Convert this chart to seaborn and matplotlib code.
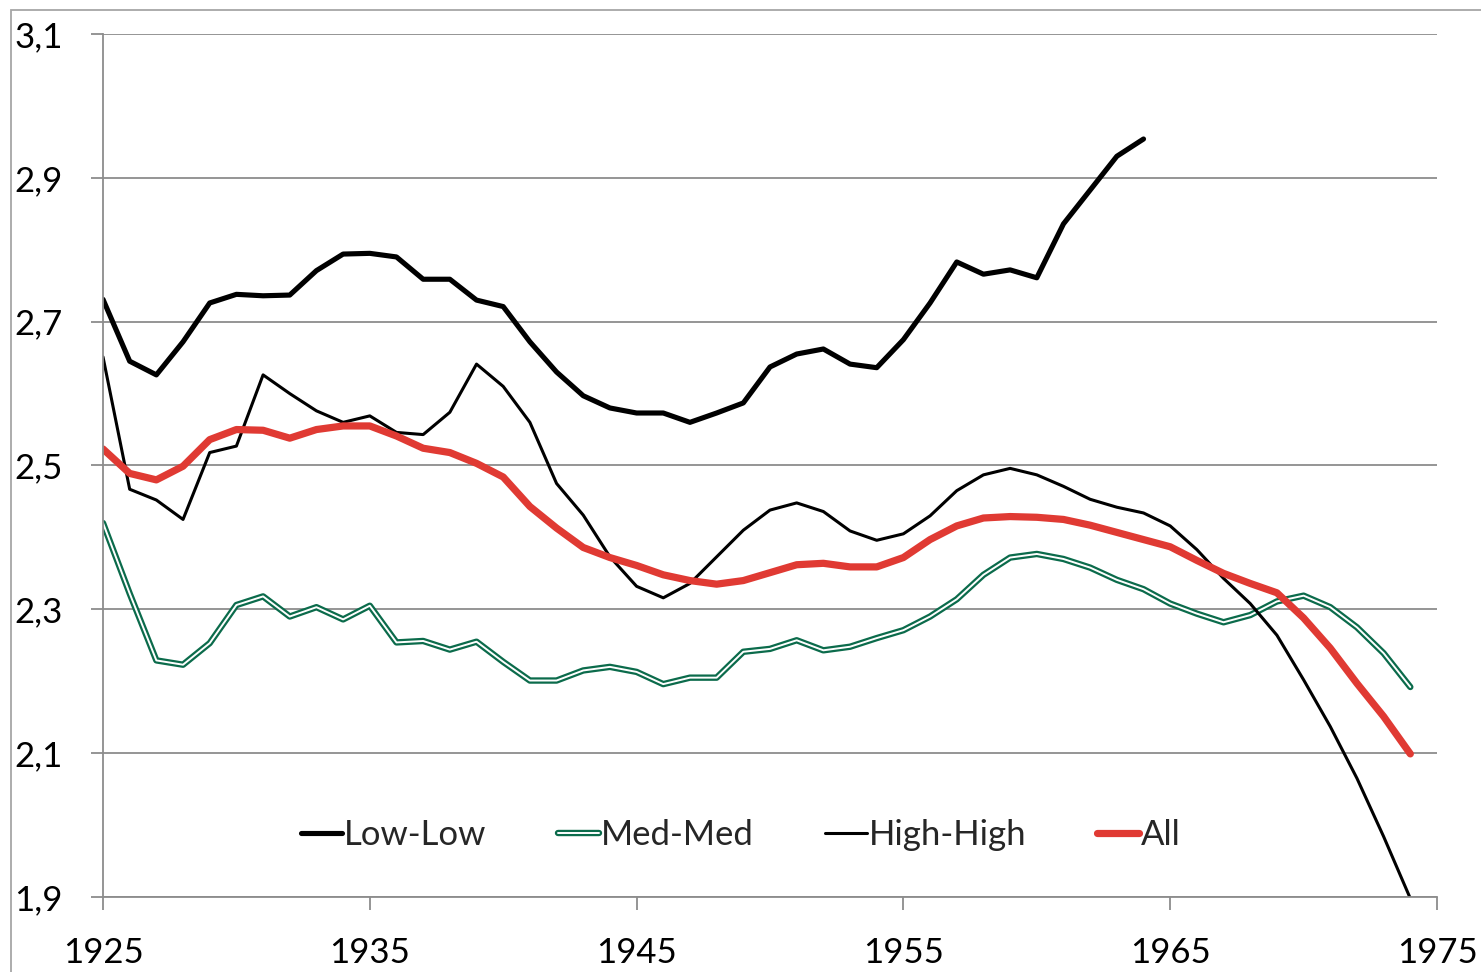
import matplotlib
matplotlib.use("Agg")
import matplotlib.pyplot as plt
import matplotlib.ticker as mticker
import matplotlib.patheffects as pe
from matplotlib.patches import Rectangle
import pandas as pd
import seaborn as sns


YEARS = list(range(1925, 1975))
LOW_YEARS = list(range(1925, 1965))

LOW_LOW = [
    2.731, 2.645, 2.626, 2.672, 2.726, 2.738, 2.736, 2.737, 2.771, 2.794,
    2.795, 2.790, 2.759, 2.759, 2.730, 2.721, 2.672, 2.630, 2.597, 2.580,
    2.573, 2.573, 2.560, 2.573, 2.587, 2.637, 2.655, 2.662, 2.641, 2.636,
    2.675, 2.726, 2.783, 2.766, 2.772, 2.761, 2.836, 2.883, 2.930, 2.954,
]
MED_MED = [
    2.420, 2.322, 2.229, 2.223, 2.253, 2.306, 2.318, 2.290, 2.303, 2.286,
    2.305, 2.254, 2.256, 2.244, 2.255, 2.227, 2.201, 2.201, 2.215, 2.220,
    2.213, 2.196, 2.205, 2.205, 2.241, 2.245, 2.257, 2.243, 2.248, 2.260,
    2.271, 2.290, 2.314, 2.348, 2.372, 2.377, 2.370, 2.358, 2.341, 2.328,
    2.308, 2.294, 2.282, 2.292, 2.311, 2.319, 2.303, 2.275, 2.239, 2.192,
]
HIGH_HIGH = [
    2.651, 2.467, 2.452, 2.425, 2.518, 2.527, 2.626, 2.600, 2.576, 2.560,
    2.569, 2.546, 2.543, 2.574, 2.641, 2.610, 2.560, 2.475, 2.431, 2.373,
    2.332, 2.316, 2.336, 2.373, 2.410, 2.438, 2.448, 2.436, 2.409, 2.396,
    2.405, 2.430, 2.465, 2.487, 2.496, 2.487, 2.471, 2.453, 2.442, 2.434,
    2.416, 2.383, 2.343, 2.308, 2.264, 2.202, 2.137, 2.065, 1.984, 1.898,
]
ALL = [
    2.523, 2.489, 2.480, 2.499, 2.536, 2.550, 2.549, 2.538, 2.550, 2.555,
    2.555, 2.541, 2.524, 2.518, 2.503, 2.484, 2.443, 2.413, 2.386, 2.372,
    2.361, 2.348, 2.340, 2.335, 2.340, 2.351, 2.362, 2.364, 2.359, 2.359,
    2.372, 2.397, 2.416, 2.427, 2.429, 2.428, 2.425, 2.417, 2.407, 2.397,
    2.387, 2.368, 2.350, 2.336, 2.323, 2.288, 2.246, 2.197, 2.151, 2.099,
]

X_TICKS = [1925, 1935, 1945, 1955, 1965, 1975]
Y_TICKS = [1.9, 2.1, 2.3, 2.5, 2.7, 2.9, 3.1]

GREY = "#8c8c8c"
GREEN = "#0b6b4b"
RED = "#e03a33"


def main() -> None:
    sns.set_theme(style="white")
    plt.rcParams["font.family"] = ["Lato", "DejaVu Sans"]

    fig = plt.figure(figsize=(14.81, 9.72), dpi=100)
    ax = fig.add_axes([103 / 1481, 1 - 897 / 972, (1437 - 103) / 1481, (897 - 34) / 972])

    low = pd.DataFrame({"year": LOW_YEARS, "value": LOW_LOW})
    full = pd.DataFrame({"year": YEARS, "med": MED_MED, "high": HIGH_HIGH, "all": ALL})

    sns.lineplot(data=low, x="year", y="value", color="black", linewidth=3.7,
                 label="Low-Low", ax=ax, solid_capstyle="round")
    sns.lineplot(data=full, x="year", y="med", color="white", linewidth=1.4,
                 label="Med-Med", ax=ax,
                 path_effects=[pe.Stroke(linewidth=4.6, foreground=GREEN), pe.Normal()])
    sns.lineplot(data=full, x="year", y="high", color="black", linewidth=2.2,
                 label="High-High", ax=ax)
    sns.lineplot(data=full, x="year", y="all", color=RED, linewidth=5.2,
                 label="All", ax=ax, solid_capstyle="round")

    ax.set_xlim(1925, 1975)
    ax.set_ylim(1.9, 3.1)
    ax.set_xticks(X_TICKS)
    ax.set_yticks(Y_TICKS)
    ax.yaxis.set_major_formatter(mticker.FuncFormatter(lambda v, _: f"{v:.1f}".replace(".", ",")))
    ax.set_xlabel("")
    ax.set_ylabel("")

    ax.grid(axis="y", color=GREY, linewidth=1.3)
    ax.grid(axis="x", visible=False)
    ax.set_axisbelow(True)
    for side in ("top", "right"):
        ax.spines[side].set_visible(False)
    for side in ("left", "bottom"):
        ax.spines[side].set_color(GREY)
        ax.spines[side].set_linewidth(1.3)

    ax.tick_params(axis="both", direction="out", length=9, width=1.3, color=GREY,
                   labelsize=25, labelcolor="black")
    ax.tick_params(axis="y", left=True, pad=20)
    ax.tick_params(axis="x", bottom=True, pad=20)

    ax.legend(loc="center", bbox_to_anchor=(0.478, 0.072), ncol=4, frameon=False,
              fontsize=25, handlelength=1.2, handletextpad=0.05, columnspacing=2.05)

    fig.add_artist(Rectangle((11 / 1481, -0.1), 1.2, (962 / 972) + 0.1,
                             transform=fig.transFigure, fill=False,
                             edgecolor="#a6a6a6", linewidth=1.3))

    fig.savefig("out.png", dpi=100)
    plt.close(fig)


if __name__ == "__main__":
    main()
